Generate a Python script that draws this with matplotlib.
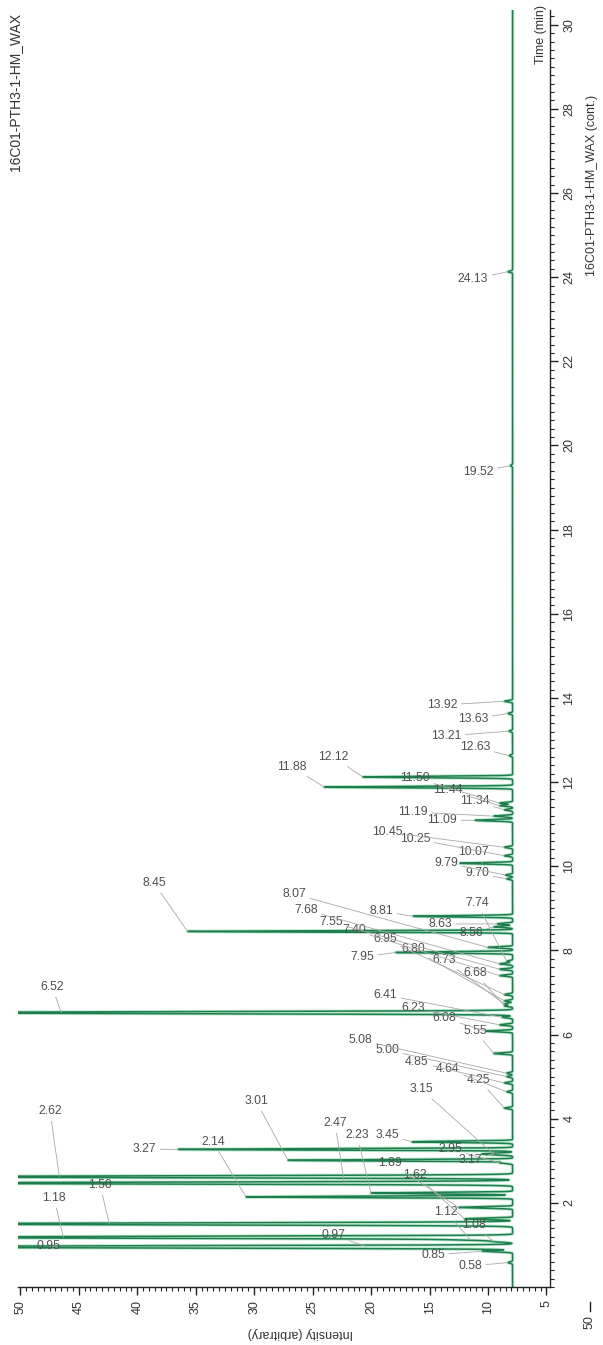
import numpy as np
import matplotlib
matplotlib.use("Agg")
import matplotlib.pyplot as plt
from matplotlib.ticker import MultipleLocator

plt.rcParams['font.family'] = ['Liberation Sans', 'DejaVu Sans']

# ---- chromatogram data -------------------------------------------------
baseline = 7.9
run_end = 30.35

# retention times (min) of the labelled peaks
peak_times = [0.58, 0.85, 0.95, 0.97, 1.08, 1.12, 1.18, 1.50, 1.62, 1.89,
              2.14, 2.23, 2.47, 2.62, 2.95, 3.01, 3.15, 3.17, 3.27, 3.45,
              4.25, 4.64, 4.85, 5.00, 5.08, 5.55, 6.08, 6.23, 6.41, 6.52,
              6.68, 6.73, 6.80, 6.95, 7.40, 7.55, 7.68, 7.74, 7.95, 8.07,
              8.45, 8.56, 8.63, 8.81, 9.70, 9.79, 10.07, 10.25, 10.45, 11.09,
              11.19, 11.34, 11.44, 11.50, 11.88, 12.12, 12.63, 13.21, 13.63, 13.92,
              19.52, 24.13]

# apex intensity of each peak (arbitrary units); the largest run off scale
peak_heights = [8.3, 10.5, 60.0, 20.5, 9.5, 11.5, 60.0, 60.0, 12.0, 12.5,
                30.7, 20.0, 60.0, 60.0, 9.0, 27.1, 9.5, 9.5, 36.5, 16.5,
                8.6, 8.4, 8.6, 8.4, 8.4, 9.5, 10.2, 9.0, 8.8, 60.0,
                8.6, 8.6, 8.6, 8.6, 9.0, 9.0, 9.0, 8.4, 17.9, 10.0,
                35.7, 9.5, 9.2, 16.4, 8.4, 8.5, 12.4, 8.6, 8.6, 11.1,
                9.5, 8.6, 9.0, 9.0, 24.0, 20.7, 8.2, 8.2, 8.3, 8.6,
                8.1, 8.3]

peak_labels = [f"{t:.2f}" for t in peak_times]

# where each peak label sits on the page (figure pixels from top-left)
label_xy = [(470, 1266), (433, 1255), (48, 1246), (333, 1235), (474, 1225), (446, 1212),
            (54, 1198), (100, 1185), (415, 1175), (390, 1163),
            (213, 1142), (357, 1135), (335, 1123), (50, 1111), (450, 1149), (256, 1101),
            (421, 1089), (470, 1160), (144, 1149), (387, 1135),
            (479, 1080), (448, 1069), (417, 1062), (387, 1050), (360, 1040), (475, 1031),
            (444, 1018), (413, 1008), (385, 995), (52, 987),
            (475, 973), (444, 960), (413, 949), (385, 939), (354, 930), (331, 922),
            (306, 910), (477, 903), (362, 957), (294, 894),
            (154, 883), (471, 933), (440, 924), (381, 911), (477, 873), (446, 863),
            (473, 852), (415, 839), (387, 832), (442, 820),
            (413, 812), (475, 801), (448, 790), (415, 778), (292, 767), (333, 757),
            (475, 747), (446, 736), (473, 719), (442, 705),
            (478, 472), (473, 279)]

# ---- figure ------------------------------------------------------------
W, H = 603, 1345
fig = plt.figure(figsize=(W / 100, H / 100), dpi=100)
ax_left, ax_right, ax_bottom, ax_top = 18, 550, 1287, 10
ax = fig.add_axes([ax_left / W, 1 - ax_bottom / H,
                   (ax_right - ax_left) / W, (ax_bottom - ax_top) / H])

x_hi, x_lo = 50.2, 4.7
ax.set_xlim(x_hi, x_lo)
ax.set_ylim(0, run_end)

# trace built from the peak table
t = np.linspace(0, run_end, 30001)
signal = np.full_like(t, baseline)
for pt, ph in zip(peak_times, peak_heights):
    width = 0.022 if ph > 40 else 0.016
    signal += (ph - baseline) * np.exp(-0.5 * ((t - pt) / width) ** 2)

ax.plot(signal, t, color='#bfe9d0', lw=2.4, solid_capstyle='butt', zorder=2)
ax.plot(signal, t, color='#1d7d4c', lw=1.1, zorder=3)

# peak labels with leader lines
px_per_unit = (ax_right - ax_left) / (x_hi - x_lo)
for lab, pt, ph, (lx, ly) in zip(peak_labels, peak_times, peak_heights, label_xy):
    label_int = x_hi - (lx - ax_left) / px_per_unit
    target = min(ph, label_int - 0.8) if ph > label_int else ph
    ax.annotate(lab, xy=(target, pt), xycoords='data',
                xytext=(lx, H - ly), textcoords='figure pixels',
                ha='center', va='center', fontsize=8.8, color='#505050',
                arrowprops=dict(arrowstyle='-', color='#a8a8a8', lw=0.6,
                                shrinkA=1, shrinkB=0),
                zorder=4)

# axes styling
for side in ('left', 'top'):
    ax.spines[side].set_visible(False)
for side in ('right', 'bottom'):
    ax.spines[side].set_color('#222222')
    ax.spines[side].set_linewidth(1.0)

ax.yaxis.tick_right()
ax.xaxis.set_major_locator(MultipleLocator(5))
ax.xaxis.set_minor_locator(MultipleLocator(0.5))
ax.yaxis.set_major_locator(MultipleLocator(2))
ax.yaxis.set_minor_locator(MultipleLocator(0.2))
ax.tick_params(axis='both', which='major', direction='out', length=6,
               width=1.0, color='#222222', labelsize=9, labelcolor='#333333')
ax.tick_params(axis='both', which='minor', direction='out', length=3,
               width=0.8, color='#222222')
ax.set_yticks([v for v in range(2, 31, 2)])
for lbl in ax.get_xticklabels():
    lbl.set_rotation(90)
    lbl.set_va('top')
    lbl.set_ha('center')
for lbl in ax.get_yticklabels():
    lbl.set_rotation(90)
    lbl.set_va('center')
    lbl.set_ha('left')

# axis titles and run names
fig.text(300 / W, 1 - 1333 / H, 'Intensity (arbitrary)', rotation=180,
         ha='center', va='center', fontsize=9, color='#333333')
fig.text(541 / W, 1 - 35 / H, 'Time (min)', rotation=90,
         ha='center', va='center', fontsize=9, color='#333333')
fig.text(15 / W, 1 - 92 / H, '16C01-PTH3-1-HM_WAX', rotation=90,
         ha='center', va='center', fontsize=10, color='#333333')
fig.text(592 / W, 1 - 185 / H, '16C01-PTH3-1-HM_WAX (cont.)', rotation=90,
         ha='center', va='center', fontsize=9, color='#333333')
fig.text(590 / W, 1 - 1322 / H, '50', rotation=90,
         ha='center', va='center', fontsize=9, color='#333333')
fig.add_artist(plt.Line2D([590 / W, 590 / W], [1 - 1311 / H, 1 - 1302 / H],
                          color='#222222', lw=1.0))

fig.savefig('out.png', dpi=100, facecolor='white')
